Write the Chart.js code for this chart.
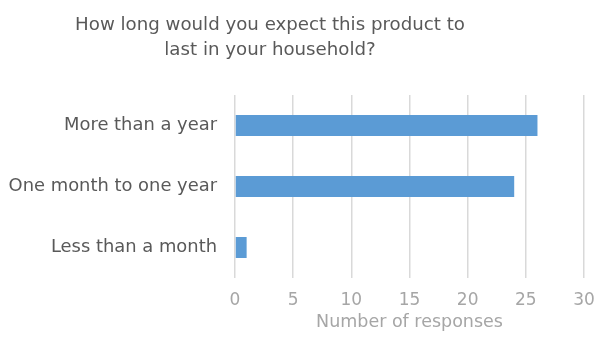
<!DOCTYPE html>
<html>
<head>
<meta charset="utf-8">
<script src="https://cdn.jsdelivr.net/npm/chart.js@4/dist/chart.umd.min.js"></script>
<style>
  html, body { margin: 0; padding: 0; background: #fff; }
  #wrap { width: 597px; height: 339px; }
</style>
</head>
<body>
<div id="wrap"><canvas id="durationChart" width="597" height="339"></canvas></div>
<script>
// Survey answers, top to bottom
const categories = ["More than a year", "One month to one year", "Less than a month"];
const responses = [26, 24, 1];
const tickValues = [0, 5, 10, 15, 20, 25, 30];

const FONT = "'DejaVu Sans', sans-serif";
// negative left padding pulls the title's centre to the left of the canvas middle
const SHIFT = 57;

const ctx = document.getElementById("durationChart").getContext("2d");
new Chart(ctx, {
    type: "bar",
    data: {
        labels: categories,
        datasets: [
            {
                label: "Responses",
                data: responses,
                backgroundColor: "#5b9bd5",
                categoryPercentage: 1,
                barPercentage: 0.345,
            },
        ],
    },
    options: {
        indexAxis: "y",
        responsive: false,
        animation: false,
        layout: { padding: { top: 0, right: 0, bottom: 6.5, left: -SHIFT } },
        plugins: {
            legend: { display: false },
            tooltip: { enabled: false },
            title: {
                display: true,
                text: ["How long would you expect this product to", "last in your household?"],
                color: "#595959",
                font: { family: FONT, size: 18.2, weight: "normal", lineHeight: 25 / 18.2 },
                padding: { top: 12.5, bottom: 32.5 },
            },
        },
        scales: {
            x: {
                min: 0,
                max: 30,
                afterBuildTicks: (scale) => {
                    scale.ticks = tickValues.map((v) => ({ value: v }));
                },
                afterFit: (scale) => {
                    scale.height = 54.5;
                    scale.paddingLeft = 0;
                    scale.paddingRight = 13;
                },
                grid: { color: "#d9d9d9", lineWidth: 1.5, drawTicks: false },
                border: { display: false },
                ticks: {
                    color: "#a6a6a6",
                    font: { family: FONT, size: 17 },
                    padding: 12,
                },
                title: {
                    display: true,
                    text: "Number of responses",
                    color: "#a6a6a6",
                    font: { family: FONT, size: 17.5 },
                    padding: { top: 0, bottom: 0 },
                },
            },
            y: {
                afterFit: (scale) => {
                    scale.width = 235 + SHIFT;
                },
                grid: { display: false },
                border: { display: false },
                ticks: {
                    color: "#595959",
                    font: { family: FONT, size: 17.9 },
                    padding: 10,
                },
            },
        },
    },
});
</script>
</body>
</html>
